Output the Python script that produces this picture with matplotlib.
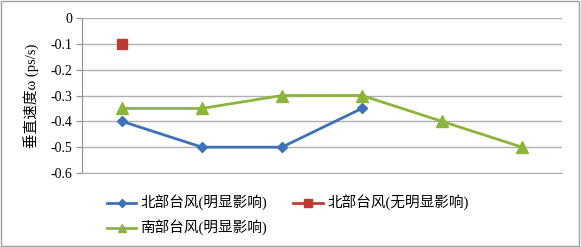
import numpy as np
import matplotlib.pyplot as plt
from matplotlib.patches import Rectangle

plt.rcParams['font.family'] = ['Liberation Serif', 'Noto Sans CJK SC', 'DejaVu Sans']

# data
cats = [1, 2, 3, 4, 5, 6]
north_yes = [-0.4, -0.5, -0.5, -0.35, np.nan, np.nan]
north_no = [-0.1, np.nan, np.nan, np.nan, np.nan, np.nan]
south_yes = [-0.35, -0.35, -0.3, -0.3, -0.4, -0.5]
yticks = [0, -0.1, -0.2, -0.3, -0.4, -0.5, -0.6]
ytick_labels = ['0', '-0.1', '-0.2', '-0.3', '-0.4', '-0.5', '-0.6']

fig = plt.figure(figsize=(5.81, 2.47), dpi=100)
fig.patches.append(Rectangle((0.002, 0.004), 0.994, 0.99, transform=fig.transFigure,
                             fill=False, edgecolor='#a0a0a0', linewidth=1.0))
ax = fig.add_axes([0.1411, 0.2996, 0.826, 0.6275])

l1, = ax.plot(cats, north_yes, color='#3d72b8', marker='D', markersize=5, linewidth=2,
              label='北部台风(明显影响)')
l2, = ax.plot(cats, north_no, color='#be3b34', marker='s', markersize=7, linewidth=2,
              label='北部台风(无明显影响)')
l3, = ax.plot(cats, south_yes, color='#8db53c', marker='^', markersize=8, linewidth=2,
              label='南部台风(明显影响)')

ax.set_xlim(0.5, 6.5)
ax.set_ylim(-0.6, 0)
ax.set_yticks(yticks)
ax.set_yticklabels(ytick_labels, fontsize=10)
ax.set_xticks([])
ax.yaxis.grid(True, color='#b0b0b0', linewidth=1)
ax.set_axisbelow(True)
for s in ['top', 'right']:
    ax.spines[s].set_visible(False)
ax.spines['left'].set_color('#909090')
ax.spines['bottom'].set_color('#b0b0b0')
ax.tick_params(axis='y', length=4, color='#909090', pad=3)
ax.set_ylabel('垂直速度ω (ps/s)', fontsize=10.5, labelpad=8)

fig.legend(handles=[l1, l3, l2], ncol=2, loc='upper left', bbox_to_anchor=(0.174, 0.233),
           frameon=False, fontsize=10.5, handlelength=2.0, columnspacing=1.8,
           labelspacing=0.6, handletextpad=0.3, borderaxespad=0, markerscale=0.75)

fig.savefig('out.png', dpi=100)
